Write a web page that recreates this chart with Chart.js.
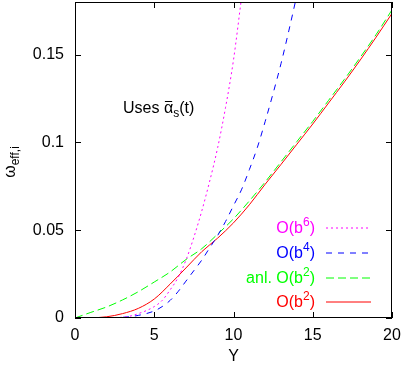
<!DOCTYPE html>
<html>
<head>
<meta charset="utf-8">
<script src="https://cdn.jsdelivr.net/npm/chart.js@4.4.1/dist/chart.umd.min.js"></script>
<style>
  body { margin: 0; background: #fff; }
  #c { display: block; }
</style>
</head>
<body>
<canvas id="c" width="401" height="366"></canvas>
<script>
// values
const yGrid = [0, 1, 2, 3, 4, 5, 6, 7, 8, 9, 10, 11, 12, 13, 14, 15, 16, 17, 18, 19, 20];
const ob2 = [0, 0.0001, 0.0007, 0.0025, 0.0055, 0.0108, 0.0193, 0.0285, 0.0378, 0.0455, 0.0542,
    0.0645, 0.0762, 0.0875, 0.099, 0.1105, 0.1225, 0.1345, 0.147, 0.160, 0.1735];
const anlOb2 = [0, 0.0032, 0.0063, 0.0103, 0.015, 0.0205, 0.0262, 0.0333, 0.0395, 0.0478, 0.0565,
    0.0667, 0.0775, 0.089, 0.1005, 0.112, 0.124, 0.136, 0.1485, 0.1615, 0.1755];
const ob4X = [0, 3, 4, 5, 5.5, 6, 6.5, 7, 7.5, 8, 8.5, 9, 9.5, 10, 10.5, 11, 11.5, 12, 12.5, 13, 13.5, 14];
const ob4 = [0, 0.0004, 0.0015, 0.004, 0.0065, 0.010, 0.015, 0.021, 0.027, 0.033, 0.040, 0.047,
    0.055, 0.064, 0.073, 0.0845, 0.097, 0.112, 0.128, 0.145, 0.164, 0.184];
const ob6X = [0, 3, 4, 5, 5.5, 6, 6.5, 7, 7.5, 8, 8.5, 9, 9.5, 10, 10.5];
const ob6 = [0, 0.0004, 0.0025, 0.0065, 0.010, 0.016, 0.023, 0.033, 0.046, 0.061, 0.078, 0.097,
    0.12, 0.147, 0.182];

const xTicks = [0, 5, 10, 15, 20];
const yTicks = [0, 0.05, 0.1, 0.15];

const FONT = '"Liberation Sans", Arial, sans-serif';

function pts(xs, ys) {
    return xs.map(function (x, i) { return {x: x, y: ys[i]}; });
}

// draws pieces of text with sub/superscripts, [text, size, dy, overline]
function drawRich(ctx, parts, x, y, align, color) {
    let w = 0;
    parts.forEach(function (p) {
        ctx.font = p[1] + 'px ' + FONT;
        w += ctx.measureText(p[0]).width;
    });
    let cx = align === 'right' ? x - w : (align === 'center' ? x - w / 2 : x);
    ctx.fillStyle = color;
    ctx.textBaseline = 'alphabetic';
    ctx.textAlign = 'left';
    parts.forEach(function (p) {
        ctx.font = p[1] + 'px ' + FONT;
        ctx.fillText(p[0], cx, y + p[2]);
        if (p[3]) {
            let pw = ctx.measureText(p[0]).width;
            ctx.fillRect(cx + 1, y + p[2] - 12, pw - 2, 1);
        }
        cx += ctx.measureText(p[0]).width;
    });
}

const decor = {
    id: 'decor',
    afterDraw: function (chart) {
        const ctx = chart.ctx;
        const a = chart.chartArea;
        const xs = chart.scales.x, ys = chart.scales.y;
        ctx.save();
        ctx.strokeStyle = '#000';
        ctx.lineWidth = 1;
        ctx.setLineDash([]);
        ctx.strokeRect(Math.round(a.left) + 0.5, Math.round(a.top) + 0.5,
            Math.round(a.right - a.left) - 1, Math.round(a.bottom - a.top) - 1);
        ctx.beginPath();
        xTicks.forEach(function (v) {
            let px = Math.round(xs.getPixelForValue(v)) + 0.5;
            ctx.moveTo(px, a.bottom); ctx.lineTo(px, a.bottom - 6);
            ctx.moveTo(px, a.top); ctx.lineTo(px, a.top + 6);
        });
        yTicks.forEach(function (v) {
            let py = Math.round(ys.getPixelForValue(v)) + 0.5;
            ctx.moveTo(a.left, py); ctx.lineTo(a.left + 6, py);
            ctx.moveTo(a.right, py); ctx.lineTo(a.right - 6, py);
        });
        ctx.stroke();

        // axis titles
        drawRich(ctx, [['Y', 16, 0]], (a.left + a.right) / 2, 361, 'center', '#000');
        ctx.save();
        ctx.translate(15, 162);
        ctx.rotate(-Math.PI / 2);
        drawRich(ctx, [['ω', 16, 0], ['eff,i', 12, 4]], 0, 0, 'center', '#000');
        ctx.restore();

        drawRich(ctx, [['Uses ', 16, 0], ['α', 16, 0, true], ['s', 12, 4], ['(t)', 16, 0]],
            123, 113, 'left', '#000');

        // legend
        const rows = [
            ['', '6', '#ff00ff', [2, 3], 233],
            ['', '4', '#0000ff', [6, 6], 258],
            ['anl. ', '2', '#00ff00', [8, 4], 283],
            ['', '2', '#ff0000', [], 307]
        ];
        rows.forEach(function (r) {
            drawRich(ctx, [[r[0] + 'O(b', 16, 0], [r[1], 12, -7], [')', 16, 0]], 315, r[4], 'right', r[2]);
            ctx.strokeStyle = r[2];
            ctx.setLineDash(r[3]);
            ctx.beginPath();
            ctx.moveTo(326, r[4] - 5);
            ctx.lineTo(371, r[4] - 5);
            ctx.stroke();
        });
        ctx.restore();
    }
};

function series(data, color, dash) {
    return {
        data: data,
        borderColor: color,
        borderWidth: 1,
        borderDash: dash,
        pointRadius: 0,
        fill: false,
        cubicInterpolationMode: 'monotone'
    };
}

new Chart(document.getElementById('c'), {
    type: 'line',
    data: {
        datasets: [
            series(pts(ob6X, ob6), '#ff00ff', [2, 3]),
            series(pts(ob4X, ob4), '#0000ff', [6, 6]),
            series(pts(yGrid, anlOb2), '#00ff00', [8, 4]),
            series(pts(yGrid, ob2), '#ff0000', [])
        ]
    },
    options: {
        responsive: false,
        animation: false,
        devicePixelRatio: 1,
        layout: {padding: {top: 2, right: 9, left: 0, bottom: 0}},
        plugins: {legend: {display: false}, tooltip: {enabled: false}},
        scales: {
            x: {
                type: 'linear',
                min: 0, max: 20,
                afterFit: function (s) {
                    s.height = 48;
                    s.paddingLeft = 0; s.paddingRight = 0;
                },
                afterBuildTicks: function (s) { s.ticks = xTicks.map(function (v) { return {value: v}; }); },
                grid: {display: false, drawTicks: false},
                border: {display: false},
                ticks: {
                    padding: 8,
                    color: '#000',
                    font: {family: FONT, size: 16},
                    maxRotation: 0,
                    callback: function (v) { return String(v); }
                }
            },
            y: {
                type: 'linear',
                min: 0, max: 0.18,
                afterFit: function (s) {
                    s.width = 75;
                    s.paddingTop = 0; s.paddingBottom = 0;
                },
                afterBuildTicks: function (s) { s.ticks = yTicks.map(function (v) { return {value: v}; }); },
                grid: {display: false, drawTicks: false},
                border: {display: false},
                ticks: {
                    padding: 11,
                    color: '#000',
                    font: {family: FONT, size: 16},
                    callback: function (v) { return String(+v.toFixed(2)); }
                }
            }
        }
    },
    plugins: [decor]
});
</script>
</body>
</html>
